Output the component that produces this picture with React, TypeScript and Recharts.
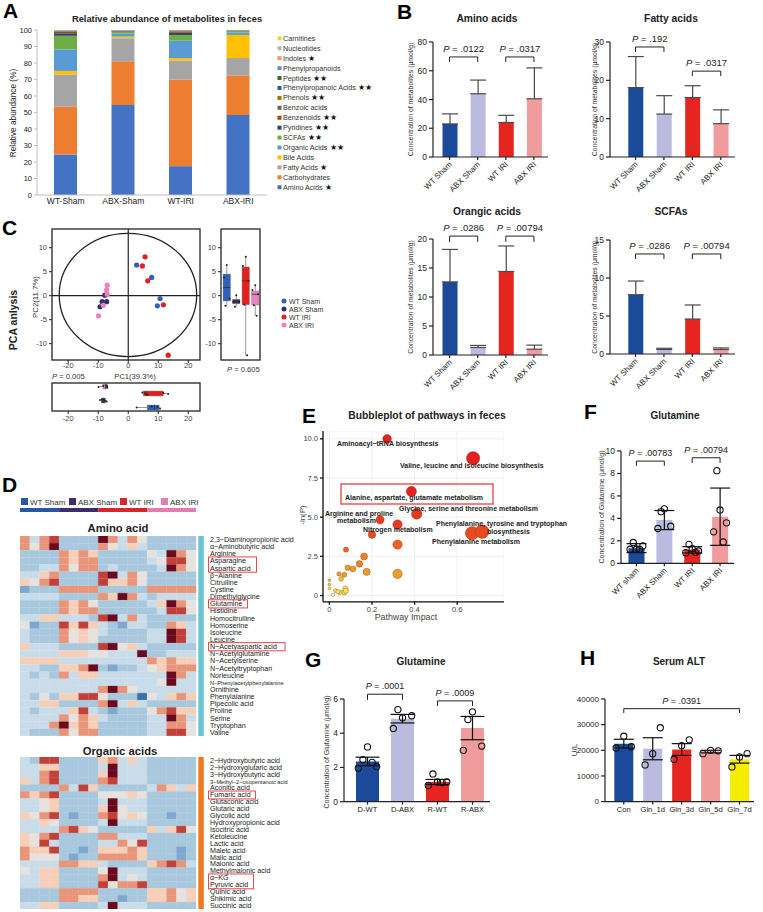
import React from 'react'
import {
  BarChart, Bar, ComposedChart, ScatterChart, Scatter, XAxis, YAxis, ZAxis,
  ErrorBar, ReferenceLine, ReferenceArea, CartesianGrid, Cell,
} from 'recharts'

const FONT = '"Liberation Sans", Arial, Helvetica, sans-serif'

// ---------- A: relative abundance ----------
const groupsA = ['WT-Sham', 'ABX-Sham', 'WT-IRI', 'ABX-IRI']
const classesA = [
  'Amino Acids', 'Carbohydrates', 'Fatty Acids', 'Bile Acids', 'Organic Acids', 'SCFAs',
  'Pyridines', 'Benzenoids', 'Benzoic acids', 'Phenols', 'Phenylpropanoic Acids', 'Peptides',
  'Phenylpropanoids', 'Indoles', 'Nucleotides', 'Carnitines',
]
const starsA = ['★', '', '★', '', '★★', '★★', '★★', '★★', '', '★★', '★★', '★★', '', '★', '', '']
const colorsA = [
  '#4472C4', '#ED7D31', '#A5A5A5', '#FFC000', '#5B9BD5', '#70AD47', '#264478', '#9E480E',
  '#636363', '#997300', '#255E91', '#43682B', '#698ED0', '#F1975A', '#B7B7B7', '#FFCD33',
]
const aminoA = [24.5, 54.5, 17.5, 48.5]
const carbA = [29, 26.5, 52.5, 24]
const fattyA = [19.5, 14, 11.5, 10.5]
const bileA = [2.2, 1, 1.5, 14]
const organicA = [13, 1.8, 10.5, 1.5]
const scfaA = [8.3, 1, 3.5, 0.8]
const pyridA = [1.5, 0.3, 1.3, 0.2]
const benzenA = [0.8, 0.2, 0.8, 0.1]
const benzoA = [0.4, 0.2, 0.4, 0.1]
const phenolA = [0.2, 0.1, 0.2, 0.05]
const ppaA = [0.2, 0.1, 0.1, 0.05]
const peptA = [0.1, 0.1, 0.05, 0.05]
const phpA = [0.1, 0.1, 0.05, 0.05]
const indolA = [0.1, 0.05, 0.05, 0.05]
const nuclA = [0.1, 0.05, 0.05, 0.05]
const carnA = [0.1, 0.05, 0.05, 0.05]
const valuesA = [aminoA, carbA, fattyA, bileA, organicA, scfaA, pyridA, benzenA, benzoA, phenolA, ppaA, peptA, phpA, indolA, nuclA, carnA]

// ---------- B: concentrations ----------
const bNames = ['WT Sham', 'ABX Sham', 'WT IRI', 'ABX IRI']
const bColors = ['#1B4A9B', '#BBBADF', '#E62420', '#F09C9C']
const aminoMean = [23, 44, 24, 40.5]
const aminoErr = [7, 9.5, 5, 21.5]
const fattyMean = [18.1, 11.2, 15.5, 8.7]
const fattyErr = [8.1, 4.8, 3.1, 3.6]
const orgMean = [12.6, 1.3, 14.4, 1.0]
const orgErr = [5.6, 0.35, 4.4, 0.7]
const scfaMean = [7.8, 0.6, 4.6, 0.6]
const scfaErr = [1.8, 0.15, 1.85, 0.2]

// ---------- C: PCA ----------
const pcaGroups = ['WT Sham', 'ABX Sham', 'WT IRI', 'ABX IRI']
const pcaColors = ['#2D62B8', '#3B2C6C', '#E1201F', '#EA82C0']
const pcaPC1 = [
  [2.8, 7.8, 10.6, 9.7],
  [-7.8, -8.7, -7.2, -9.4],
  [5.6, 4.7, 6.5, 11.7, 13.3],
  [-7.0, -7.2, -7.0, -8.3, -9.9],
]
const pcaPC2 = [
  [6.4, 3.8, -0.6, -2.1],
  [0.1, -1.25, -1.25, -2.3],
  [8.1, 6.2, 3.1, -1.9, -12.4],
  [2.2, 1.2, 0.3, -2.0, -4.2],
]
const pc2Box = [[-1.1, 4.5], [-1.7, -0.75], [-1.9, 6.0], [-1.95, 1.0]]
const pc2Whisk = [[-2.3, 6.3], [-2.3, 0.1], [-12.5, 8.1], [-4.2, 2.2]]
const pc2Med = [1.7, -1.3, 3.1, 0.3]
const pc1Box = [[6.3, 10.3], [-9.0, -7.6], [5.0, 11.7], [-8.5, -7.0]]
const pc1Whisk = [[2.8, 10.6], [-9.4, -7.2], [4.7, 13.3], [-9.9, -7.0]]
const pc1Med = [8.7, -8.3, 6.0, -7.6]
const pcaX: [number, number] = [-25.4, 23.9]
const pcaY: [number, number] = [-13.4, 13.9]

// ---------- D: heatmaps ----------
const heatGroups = ['WT Sham', 'ABX Sham', 'WT IRI', 'ABX IRI']
const heatCounts = [4, 4, 5, 5]
const heatGroupColors = ['#2A56A6', '#3D2C6E', '#D8262A', '#E47BB3']
const HEAT = ['#3A6FAA', '#7FA8CF', '#A8C8DE', '#C9DCE9', '#E6E2DE', '#F6CFB9', '#E8957A', '#C3403A', '#6B0A1F']
const aminoNames = [
  '2,3−Diaminopropionic acid', 'α−Aminobutyric acid', 'Arginine', 'Asparagine', 'Aspartic acid',
  'β−Alanine', 'Citrulline', 'Cystine', 'Dimethylglycine', 'Glutamine', 'Histidine', 'Homocitrulline',
  'Homoserine', 'Isoleucine', 'Leucine', 'N−Acetyaspartic acid', 'N−Acetylglutamine', 'N−Acetylserine',
  'N−Acetyltryptophan', 'Norleucine', 'N−Phenylacetylphenylalanine', 'Ornithine', 'Phenylalanine',
  'Pipecolic acid', 'Proline', 'Serine', 'Tryptophan', 'Valine',
]
const aminoHeat = [
  [6, 3, 6, 7, 2, 2, 2, 2, 8, 6, 3, 6, 4, 2, 2, 2, 2, 2],
  [6, 4, 6, 8, 2, 2, 2, 2, 6, 4, 3, 5, 3, 2, 2, 2, 2, 2],
  [2, 2, 2, 2, 6, 5, 6, 5, 2, 2, 2, 2, 2, 4, 3, 8, 6, 4],
  [2, 2, 2, 2, 6, 5, 6, 6, 2, 2, 2, 2, 2, 3, 4, 7, 7, 4],
  [2, 2, 3, 3, 6, 4, 6, 6, 2, 3, 2, 2, 2, 2, 3, 8, 6, 4],
  [3, 3, 5, 6, 2, 2, 2, 2, 7, 8, 3, 6, 4, 2, 2, 2, 2, 2],
  [5, 4, 6, 7, 2, 2, 2, 2, 7, 5, 5, 6, 4, 2, 2, 2, 2, 2],
  [1, 2, 2, 2, 6, 6, 6, 6, 2, 2, 2, 2, 2, 6, 6, 6, 6, 6],
  [3, 3, 3, 3, 2, 2, 2, 2, 6, 5, 8, 6, 3, 2, 3, 3, 3, 3],
  [2, 2, 2, 2, 6, 5, 6, 4, 2, 2, 2, 2, 2, 3, 5, 8, 6, 4],
  [2, 2, 2, 2, 6, 5, 6, 6, 2, 2, 2, 2, 2, 2, 3, 7, 7, 4],
  [3, 3, 5, 5, 3, 3, 3, 2, 7, 8, 3, 6, 3, 2, 2, 2, 2, 2],
  [4, 1, 2, 2, 7, 5, 7, 5, 3, 2, 1, 3, 3, 2, 2, 6, 5, 3],
  [3, 2, 2, 2, 6, 4, 5, 4, 3, 2, 2, 2, 2, 3, 3, 8, 7, 3],
  [3, 2, 2, 2, 6, 4, 5, 4, 2, 2, 2, 2, 2, 3, 3, 8, 7, 3],
  [5, 3, 3, 3, 2, 2, 2, 2, 7, 8, 4, 5, 3, 2, 2, 2, 2, 2],
  [3, 3, 3, 3, 5, 5, 5, 4, 4, 3, 3, 3, 8, 2, 2, 3, 3, 3],
  [5, 5, 5, 5, 3, 3, 3, 3, 3, 3, 3, 3, 3, 6, 5, 6, 5, 5],
  [3, 3, 2, 2, 5, 5, 6, 8, 2, 1, 2, 2, 3, 4, 5, 6, 6, 6],
  [3, 2, 3, 2, 6, 3, 5, 5, 3, 3, 3, 3, 3, 3, 3, 8, 6, 3],
  [3, 3, 3, 3, 3, 3, 3, 3, 3, 3, 3, 3, 3, 3, 4, 8, 3, 3],
  [3, 3, 3, 3, 3, 3, 3, 3, 6, 8, 6, 4, 3, 3, 3, 3, 3, 3],
  [3, 2, 4, 2, 5, 5, 7, 7, 4, 2, 2, 2, 0, 4, 3, 5, 6, 5],
  [3, 3, 5, 5, 2, 2, 2, 2, 6, 8, 3, 5, 3, 2, 2, 2, 2, 2],
  [3, 2, 3, 3, 3, 5, 7, 3, 2, 1, 2, 2, 2, 4, 6, 7, 5, 5],
  [3, 3, 3, 3, 6, 4, 6, 5, 3, 2, 2, 2, 2, 3, 3, 8, 6, 3],
  [3, 3, 3, 6, 8, 5, 6, 5, 2, 2, 2, 2, 2, 3, 3, 6, 6, 4],
  [3, 2, 2, 2, 6, 4, 6, 6, 2, 2, 2, 2, 2, 3, 3, 7, 7, 4],
]
const organicNames = [
  '2−Hydroxybutyric acid', '2−Hydroxyglutaric acid', '3−Hydroxybutyric acid', '3−Methyl−2−oxopentanoic acid',
  'Aconitic acid', 'Fumaric acid', 'Glutaconic acid', 'Glutaric acid', 'Glycolic acid', 'Hydroxypropionic acid',
  'Isocitric acid', 'Ketoleucine', 'Lactic acid', 'Maleic acid', 'Malic acid', 'Malonic acid',
  'Methylmalonic acid', 'α−KG', 'Pyruvic acid', 'Quinic acid', 'Shikimic acid', 'Succinic acid',
]
const organicHeat = [
  [3, 2, 7, 7, 2, 2, 2, 2, 5, 6, 3, 5, 3, 2, 2, 2, 2, 2],
  [3, 3, 5, 5, 2, 2, 2, 2, 3, 8, 3, 3, 3, 2, 2, 2, 2, 2],
  [3, 3, 6, 7, 2, 2, 2, 2, 5, 8, 3, 3, 3, 2, 2, 2, 2, 2],
  [5, 3, 6, 7, 2, 2, 2, 2, 6, 7, 3, 3, 3, 2, 2, 2, 2, 2],
  [2, 2, 2, 2, 6, 3, 7, 5, 2, 2, 2, 2, 2, 3, 6, 5, 3, 5],
  [6, 5, 6, 7, 2, 2, 2, 2, 4, 4, 4, 5, 4, 2, 2, 2, 2, 2],
  [3, 3, 4, 5, 2, 2, 2, 2, 3, 8, 3, 3, 3, 2, 2, 2, 2, 2],
  [3, 3, 4, 5, 2, 2, 2, 2, 5, 8, 4, 3, 3, 2, 2, 2, 2, 2],
  [5, 4, 6, 7, 2, 1, 2, 2, 6, 7, 4, 5, 4, 2, 2, 1, 2, 2],
  [3, 3, 5, 4, 2, 2, 2, 2, 3, 8, 3, 3, 3, 2, 2, 2, 2, 2],
  [3, 3, 3, 3, 6, 7, 5, 4, 2, 2, 2, 2, 2, 5, 3, 5, 7, 4],
  [5, 4, 6, 7, 2, 2, 2, 2, 6, 6, 3, 3, 3, 2, 2, 2, 2, 2],
  [5, 4, 7, 3, 2, 2, 2, 2, 3, 3, 6, 4, 7, 2, 2, 2, 2, 2],
  [6, 5, 5, 7, 2, 2, 1, 2, 5, 5, 5, 6, 5, 2, 2, 2, 1, 2],
  [6, 4, 4, 4, 2, 1, 2, 2, 6, 6, 6, 6, 5, 2, 2, 2, 1, 2],
  [3, 3, 3, 3, 6, 6, 5, 5, 3, 2, 2, 2, 2, 5, 6, 7, 6, 3],
  [4, 3, 5, 5, 2, 2, 2, 2, 4, 8, 3, 3, 3, 2, 2, 2, 2, 2],
  [3, 3, 5, 5, 2, 2, 2, 2, 6, 8, 3, 4, 3, 2, 2, 2, 2, 2],
  [3, 3, 5, 5, 2, 2, 2, 2, 7, 4, 6, 6, 7, 2, 2, 2, 2, 2],
  [2, 2, 2, 2, 6, 6, 6, 6, 2, 2, 2, 2, 2, 5, 5, 6, 4, 5],
  [2, 2, 2, 2, 6, 6, 5, 5, 2, 2, 1, 2, 2, 5, 5, 6, 4, 5],
  [3, 3, 5, 5, 2, 2, 2, 2, 3, 8, 3, 3, 3, 2, 2, 2, 2, 2],
]
const smallLabels = ['N−Phenylacetylphenylalanine', '3−Methyl−2−oxopentanoic acid']

// ---------- E: pathway bubbles ----------
const impactE = [0.271, 0.675, 0.385, 0.41, 0.238, 0.32, 0.2, 0.67, 0.717, 0.32, 0.078, 0.163, 0.141, 0.086, 0.111, 0.175, 0.32, 0.045, 0.07, 0.055, 0, 0, 0, 0.028, 0.05, 0.07, 0.075, 0.077, 0.017, 0.04]
const nlpE = [10.0, 8.76, 6.64, 5.21, 4.83, 4.53, 3.89, 3.98, 4.08, 3.25, 2.93, 2.49, 2.02, 1.77, 1.7, 1.51, 1.38, 1.38, 1.32, 1.06, 0.98, 0.7, 0.45, 0.32, 0.2, 0.2, 0.45, 0.3, 0.05, 0.25]

// ---------- F / G / H ----------
const fNames = ['WT sham', 'ABX Sham', 'WT IRI', 'ABX IRI']
const fMean = [1.35, 3.85, 1.2, 4.15]
const fErr = [0.4, 0.85, 0.28, 2.55]
const fPts = [[1.25, 1.25, 1.55, 1.85, 1.25], [4.85, 3.1, 3.3, 4.6], [1.3, 0.95, 1.1, 1.69, 0.98], [4.75, 2.8, 3.6, 8.25, 1.9]]
const gNames = ['D-WT', 'D-ABX', 'R-WT', 'R-ABX']
const gMean = [2.35, 4.85, 1.15, 4.3]
const gErr = [0.25, 0.25, 0.15, 0.68]
const gPts = [[3.2, 1.95, 2.05, 2.45, 2.3], [4.9, 4.28, 5.02, 5.38], [1.15, 0.95, 1.15, 1.62, 1.12], [5.25, 3.0, 3.25, 4.8]]
const hNames = ['Con', 'Gln_1d', 'Gln_3d', 'Gln_5d', 'Gln_7d']
const hMean = [22600, 20600, 20300, 19500, 16500]
const hErr = [1700, 4300, 2300, 500, 1500]
const hPts = [[25500, 20900, 21400], [18700, 14300, 28800], [21800, 16500, 24100], [20000, 18700, 19800], [17400, 13500, 18700]]
const hColors = ['#1B4A9B', '#BBBADF', '#E62420', '#F09C9C', '#F6EC00']

// ---------- helpers ----------
type Br = { a: string; b: string; y: number; drop: number; text: string }

function PText({ viewBox, text, size }: any) {
  const vb = viewBox || { x: 0, y: 0, width: 0 }
  return (
    <text x={vb.x + vb.width / 2} y={vb.y - 5} textAnchor="middle" fontSize={size} fill="#222">
      <tspan fontStyle="italic">P</tspan>{' = ' + text}
    </text>
  )
}

function bracket(b: Br, i: number, size: number) {
  const s = { stroke: '#222', strokeWidth: 1, ifOverflow: 'visible' as const }
  return [
    <ReferenceLine key={'bh' + i} {...s} segment={[{ x: b.a, y: b.y }, { x: b.b, y: b.y }]}
      label={(p: any) => <PText viewBox={p.viewBox} text={b.text} size={size} />} />,
    <ReferenceLine key={'bl' + i} {...s} segment={[{ x: b.a, y: b.y }, { x: b.a, y: b.y - b.drop }]} />,
    <ReferenceLine key={'br' + i} {...s} segment={[{ x: b.b, y: b.y }, { x: b.b, y: b.y - b.drop }]} />,
  ]
}

const JIT = [0, -0.4, 0.4, -0.2, 0.2]

function dotShape(k: number, w: number) {
  return (p: any) => {
    if (!Number.isFinite(p.cx) || !Number.isFinite(p.cy) || p.payload?.['p' + k] == null) return <g />
    return <circle cx={p.cx + JIT[k] * w} cy={p.cy} r={3.1} fill="none" stroke="#111" strokeWidth={1.1} />
  }
}

function RotTick(props: any) {
  const { x, y, payload, size } = props
  return (
    <text x={x} y={y} dy={4} transform={`rotate(-45 ${x} ${y})`} textAnchor="end" fontSize={size} fill="#222">
      {payload.value}
    </text>
  )
}

type ErrProps = {
  px: number; py: number; pw: number; ph: number
  names: string[]; means: number[]; errs: number[]; colors: string[]
  domain: [number, number]; ticks: number[]; barSize: number; pad: number
  brackets: Br[]; pts?: number[][]; rotate?: boolean; both?: boolean
  capW?: number; errColor?: string; pSize?: number; tSize?: number; xSize?: number
}

function ErrChart(p: ErrProps) {
  const yw = 36, mt = 46, mr = 8, xh = p.rotate ? 46 : 20
  const data = p.names.map((n, i) => {
    const row: any = { name: n, mean: p.means[i], err: p.both ? p.errs[i] : [0, p.errs[i]] }
    ;(p.pts?.[i] ?? []).forEach((v, k) => (row['p' + k] = v))
    return row
  })
  const nPts = p.pts ? Math.max(...p.pts.map((a) => a.length)) : 0
  const ax = { stroke: '#222', strokeWidth: 1.2 }
  return (
    <div style={{ position: 'absolute', left: p.px - yw, top: p.py - mt }}>
      <ComposedChart width={yw + p.pw + mr} height={mt + p.ph + xh} data={data}
        margin={{ top: mt, right: mr, left: 0, bottom: 0 }}>
        <XAxis dataKey="name" interval={0} height={xh} padding={{ left: p.pad, right: 0 }}
          axisLine={ax} tickLine={ax} tickSize={3}
          tick={p.rotate ? <RotTick size={p.xSize ?? 8} /> : { fontSize: p.xSize ?? 7.8, fill: '#222' }} />
        <YAxis width={yw} domain={p.domain} ticks={p.ticks} allowDataOverflow interval={0}
          tickSize={4} axisLine={ax} tickLine={ax} tick={{ fontSize: p.tSize ?? 8.5, fill: '#222' }} />
        <Bar dataKey="mean" barSize={p.barSize} isAnimationActive={false}>
          {data.map((_, i) => <Cell key={i} fill={p.colors[i]} />)}
          <ErrorBar dataKey="err" width={p.capW ?? 8} stroke={p.errColor ?? '#4a4a4a'} strokeWidth={1.2} direction="y" />
        </Bar>
        {Array.from({ length: nPts }).map((_, k) => (
          <Scatter key={'p' + k} dataKey={'p' + k} isAnimationActive={false} shape={dotShape(k, p.barSize)} />
        ))}
        {p.brackets.flatMap((b, i) => bracket(b, i, p.pSize ?? 9))}
      </ComposedChart>
    </div>
  )
}

// ---------- panels ----------
function PanelA() {
  const data = groupsA.map((g, i) => {
    const row: any = { name: g }
    classesA.forEach((c, k) => (row[c] = valuesA[k][i]))
    return row
  })
  const ax = { stroke: '#bfbfbf' }
  return (
    <div style={{ position: 'absolute', left: 7, top: 25 }}>
      <BarChart width={260} height={190} data={data} margin={{ top: 5, right: 0, left: 0, bottom: 0 }} barSize={23}>
        <XAxis dataKey="name" height={20} interval={0} tickLine={false} tickSize={0} tickMargin={3}
          axisLine={ax} tick={{ fontSize: 8.5, fill: '#222' }} />
        <YAxis width={30} domain={[0, 100]} ticks={[0, 10, 20, 30, 40, 50, 60, 70, 80, 90, 100]} allowDataOverflow
          interval={0} tickSize={3} axisLine={ax} tickLine={ax} tick={{ fontSize: 7.5, fill: '#222' }} />
        {classesA.map((c, k) => (
          <Bar key={c} dataKey={c} stackId="a" fill={colorsA[k]} isAnimationActive={false} />
        ))}
      </BarChart>
    </div>
  )
}

function PcaMain() {
  const yw = 20, xh = 14
  const tk = { fontSize: 7.5, fill: '#444' }
  return (
    <div style={{ position: 'absolute', left: 52 - yw, top: 229 }}>
      <ScatterChart width={yw + 148} height={131 + xh} margin={{ top: 0, right: 0, left: 0, bottom: 0 }}>
        <XAxis type="number" dataKey="x" domain={pcaX} ticks={[-20, -10, 0, 10, 20]} allowDataOverflow height={xh}
          axisLine={false} tickSize={3} tickMargin={0} tickLine={{ stroke: '#222' }} tick={tk} />
        <YAxis type="number" dataKey="y" domain={pcaY} ticks={[-10, -5, 0, 5, 10]} allowDataOverflow width={yw}
          axisLine={false} tickSize={3} tickLine={{ stroke: '#222' }} tick={tk} />
        <ReferenceArea x1={-23} x2={22.8} y1={-12.7} y2={13} ifOverflow="visible"
          shape={(s: any) => (
            <ellipse cx={s.x + s.width / 2} cy={s.y + s.height / 2} rx={s.width / 2} ry={s.height / 2}
              fill="none" stroke="#222" strokeWidth={1.3} />
          )} />
        <ReferenceLine x={0} stroke="#222" strokeWidth={1.2} />
        <ReferenceLine y={0} stroke="#222" strokeWidth={1.2} />
        {pcaGroups.map((g, i) => (
          <Scatter key={g} data={pcaPC1[i].map((v, j) => ({ x: v, y: pcaPC2[i][j] }))} isAnimationActive={false}
            shape={(s: any) => <circle cx={s.cx} cy={s.cy} r={2.6} fill={pcaColors[i]} />} />
        ))}
      </ScatterChart>
    </div>
  )
}

const smallDot = (k: number, vertical: boolean) => (s: any) => {
  if (!Number.isFinite(s.cx) || !Number.isFinite(s.cy) || s.payload?.['q' + k] == null) return <g />
  const o = JIT[k] * 7
  return <circle cx={vertical ? s.cx + o : s.cx} cy={vertical ? s.cy : s.cy + o * 0.4} r={1} fill="#222" />
}

function PcaRight() {
  const yw = 22
  const data = pcaGroups.map((g, i) => {
    const r: any = { name: g, box: pc2Box[i], med: pc2Med[i] }
    pcaPC2[i].forEach((v, k) => (r['q' + k] = v))
    return r
  })
  const tk = { fontSize: 7.5, fill: '#444' }
  return (
    <div style={{ position: 'absolute', left: 221 - yw, top: 229 }}>
      <ComposedChart width={yw + 39} height={131} data={data} margin={{ top: 0, right: 0, left: 0, bottom: 0 }}>
        <XAxis dataKey="name" hide padding={{ left: 1, right: 0 }} />
        <YAxis domain={pcaY} ticks={[-10, -5, 0, 5, 10]} allowDataOverflow width={yw} axisLine={false}
          tickSize={3} tickLine={{ stroke: '#222' }} tick={tk} />
        {pcaGroups.flatMap((g, i) => [
          <ReferenceLine key={'wl' + i} segment={[{ x: g, y: pc2Whisk[i][0] }, { x: g, y: pc2Box[i][0] }]} stroke="#9a9a9a" />,
          <ReferenceLine key={'wh' + i} segment={[{ x: g, y: pc2Box[i][1] }, { x: g, y: pc2Whisk[i][1] }]} stroke="#9a9a9a" />,
        ])}
        <Bar dataKey="box" barSize={7.5} isAnimationActive={false} stroke="#8a8a8a" strokeWidth={0.4}>
          {data.map((_, i) => <Cell key={i} fill={pcaColors[i]} />)}
        </Bar>
        <Scatter dataKey="med" isAnimationActive={false}
          shape={(s: any) => <line x1={s.cx - 3.7} x2={s.cx + 3.7} y1={s.cy} y2={s.cy} stroke="#333" strokeWidth={0.8} />} />
        {[0, 1, 2, 3, 4].map((k) => (
          <Scatter key={k} dataKey={'q' + k} isAnimationActive={false} shape={smallDot(k, true)} />
        ))}
      </ComposedChart>
    </div>
  )
}

function PcaBottom() {
  const order = [3, 2, 1, 0]
  const data = order.map((i) => {
    const r: any = { name: pcaGroups[i], box: pc1Box[i], med: pc1Med[i], col: pcaColors[i] }
    pcaPC1[i].forEach((v, k) => (r['q' + k] = v))
    return r
  })
  const xh = 16
  return (
    <div style={{ position: 'absolute', left: 52, top: 383 }}>
      <ComposedChart layout="vertical" width={148} height={28 + xh} data={data} margin={{ top: 0, right: 0, left: 0, bottom: 0 }}>
        <XAxis type="number" domain={pcaX} ticks={[-20, -10, 0, 10, 20]} allowDataOverflow height={xh}
          axisLine={false} tickSize={3} tickLine={{ stroke: '#222' }} tick={{ fontSize: 7.5, fill: '#444' }} />
        <YAxis type="category" dataKey="name" hide />
        {order.flatMap((i) => {
          const g = pcaGroups[i]
          return [
            <ReferenceLine key={'wl' + i} segment={[{ x: pc1Whisk[i][0], y: g }, { x: pc1Box[i][0], y: g }]} stroke="#9a9a9a" />,
            <ReferenceLine key={'wh' + i} segment={[{ x: pc1Box[i][1], y: g }, { x: pc1Whisk[i][1], y: g }]} stroke="#9a9a9a" />,
          ]
        })}
        <Bar dataKey="box" barSize={5} isAnimationActive={false} stroke="#8a8a8a" strokeWidth={0.4}>
          {data.map((d, i) => <Cell key={i} fill={d.col} />)}
        </Bar>
        <Scatter dataKey="med" isAnimationActive={false}
          shape={(s: any) => <line x1={s.cx} x2={s.cx} y1={s.cy - 2.6} y2={s.cy + 2.6} stroke="#333" strokeWidth={0.8} />} />
        {[0, 1, 2, 3, 4].map((k) => (
          <Scatter key={k} dataKey={'q' + k} isAnimationActive={false} shape={smallDot(k, false)} />
        ))}
      </ComposedChart>
    </div>
  )
}

function HeatTick(props: any) {
  const { x, y, payload } = props
  const small = smallLabels.includes(payload.value)
  return (
    <text x={x} y={y} dy={2.4} fontSize={small ? 5.6 : 7.1} fill="#222" stroke="none" textAnchor="start">
      {payload.value}
    </text>
  )
}

const cols = Array.from({ length: 18 }, (_, j) => 'c' + j)

function Heat({ rows, labels, top, h }: { rows: number[][]; labels: string[]; top: number; h: number }) {
  const data = labels.map((l) => {
    const o: any = { name: l }
    cols.forEach((c) => (o[c] = 1))
    return o
  })
  return (
    <div style={{ position: 'absolute', left: 20, top }}>
      <BarChart layout="vertical" width={176 + 130} height={h} data={data} barCategoryGap={0} barGap={0}
        margin={{ top: 0, right: 0, left: 0, bottom: 0 }}>
        <XAxis type="number" hide domain={[0, 18]} />
        <YAxis type="category" dataKey="name" orientation="right" width={130} axisLine={false} tickLine={false}
          tickSize={0} tickMargin={14} interval={0} tick={<HeatTick />} />
        {cols.map((c, j) => (
          <Bar key={c} dataKey={c} stackId="h" isAnimationActive={false}>
            {rows.map((r, i) => <Cell key={i} fill={HEAT[r[j]]} stroke={HEAT[r[j]]} strokeWidth={0.3} />)}
          </Bar>
        ))}
      </BarChart>
    </div>
  )
}

function bubbleColor(v: number) {
  if (v >= 6) return '#E4211C'
  if (v >= 4.4) return '#E7391D'
  if (v >= 3.5) return '#E9491E'
  if (v >= 2.8) return '#EC6321'
  if (v >= 1.9) return '#EF8124'
  if (v >= 1.2) return '#F29B28'
  if (v >= 0.6) return '#F5C432'
  if (v >= 0.15) return '#F7E552'
  return '#FBF6C0'
}

function PanelE() {
  const data = impactE.map((v, i) => ({ impact: v, nlp: nlpE[i] }))
  const yw = 26, xh = 18
  const ax = { stroke: '#111', strokeWidth: 1.3 }
  return (
    <div style={{ position: 'absolute', left: 322.7 - yw, top: 430.5 }}>
      <ScatterChart width={yw + 181} height={170.8 + xh} margin={{ top: 0, right: 0, left: 0, bottom: 0 }}>
        <CartesianGrid stroke="#efefef" />
        <XAxis type="number" dataKey="impact" domain={[-0.03, 0.82]} ticks={[0, 0.2, 0.4, 0.6]} allowDataOverflow
          height={xh} tickSize={3} axisLine={ax} tickLine={ax} tick={{ fontSize: 7.5, fill: '#444' }}
          tickFormatter={(v: number) => (v === 0 ? '0' : String(v))} />
        <YAxis type="number" dataKey="nlp" domain={[-0.4, 10.5]} ticks={[0, 2.5, 5, 7.5, 10]} allowDataOverflow
          width={yw} tickSize={3} axisLine={ax} tickLine={ax} tick={{ fontSize: 7.5, fill: '#444' }}
          tickFormatter={(v: number) => (v === 0 ? '0' : v.toFixed(1))} />
        <ZAxis type="number" dataKey="impact" range={[6, 150]} domain={[0, 0.72]} />
        <Scatter data={data} isAnimationActive={false}>
          {data.map((d, i) => <Cell key={i} fill={bubbleColor(d.nlp)} stroke="#7a4a2a" strokeWidth={0.4} />)}
        </Scatter>
      </ScatterChart>
    </div>
  )
}

// ---------- overlay text ----------
function T({ x, y, s = 8, b = false, a = 'start', r = 0, fill = '#222', children }: any) {
  return (
    <text x={x} y={y} fontSize={s} fontWeight={b ? 700 : 400} textAnchor={a} fill={fill}
      transform={r ? `rotate(${r} ${x} ${y})` : undefined}>
      {children}
    </text>
  )
}

const CONC = 'Concentration of metabolites (μmol/g)'
const GLN = 'Concentration of Glutamine (μmol/g)'

function Overlay() {
  const amRH = 200 / 28
  const orRH = 152 / 22
  const cw = 176 / 18
  let acc = 0
  const boxes = [
    { y: 536 + 3 * amRH, n: 2, w: 48, h: amRH },
    { y: 536 + 9 * amRH, n: 1, w: 39, h: amRH },
    { y: 536 + 15 * amRH, n: 1, w: 76.5, h: amRH },
    { y: 757 + 5 * orRH, n: 1, w: 47, h: orRH },
    { y: 757 + 17 * orRH, n: 2, w: 45, h: orRH },
  ]
  const dLegX = [21, 69, 120, 161]
  const letters: [string, number, number][] = [
    ['A', 3, 18], ['B', 397, 19], ['C', 2, 235], ['D', 2, 492], ['E', 302, 423], ['F', 584, 419], ['G', 305, 667], ['H', 580, 665],
  ]
  return (
    <svg width={763} height={912} style={{ position: 'absolute', left: 0, top: 0, pointerEvents: 'none' }}>
      {letters.map(([l, x, y]) => <T key={l} x={x} y={y} s={21} b fill="#000">{l}</T>)}

      {/* A */}
      <T x={167} y={22} s={9.3} b a="middle">Relative abundance of metabolites in feces</T>
      <T x={16} y={113} s={8.3} a="middle" r={-90}>Relative abundance (%)</T>
      {classesA.map((c, idx) => {
        const k = classesA.length - 1 - idx
        const cy = 38.3 + k * 9.93
        return (
          <g key={c}>
            <rect x={277.5} y={cy - 2} width={4} height={4} fill={colorsA[idx]} />
            <text x={283} y={cy + 2.5} fontSize={7.2} fill="#333">
              {c}{starsA[idx] ? <tspan fontSize={8} fill="#111">{' ' + starsA[idx]}</tspan> : null}
            </text>
          </g>
        )
      })}

      {/* B */}
      <T x={487} y={22} s={10.3} b a="middle">Amino acids</T>
      <T x={671} y={22} s={10.3} b a="middle">Fatty acids</T>
      <T x={487} y={215} s={10.3} b a="middle">Orangic acids</T>
      <T x={671} y={215} s={10.3} b a="middle">SCFAs</T>
      <T x={413} y={99.5} s={6.8} a="middle" r={-90} fill="#333">{CONC}</T>
      <T x={597} y={99.5} s={6.8} a="middle" r={-90} fill="#333">{CONC}</T>
      <T x={413} y={297} s={6.8} a="middle" r={-90} fill="#333">{CONC}</T>
      <T x={597} y={297} s={6.8} a="middle" r={-90} fill="#333">{CONC}</T>

      {/* C */}
      <T x={17} y={320} s={10.5} b a="middle" r={-90}>PCA anlysis</T>
      <T x={38} y={297} s={7.8} a="middle" r={-90} fill="#333">PC2(11.7%)</T>
      <T x={135} y={379} s={7.6} a="middle" fill="#333">PC1(39.3%)</T>
      <T x={52} y={379} s={7.6} fill="#333"><tspan fontStyle="italic">P</tspan> = 0.005</T>
      <T x={227} y={372} s={7.6} fill="#333"><tspan fontStyle="italic">P</tspan> = 0.605</T>
      <rect x={52} y={229} width={148} height={131} fill="none" stroke="#222" strokeWidth={1.3} />
      <rect x={221} y={229} width={39} height={131} fill="none" stroke="#222" strokeWidth={1.3} />
      <rect x={52} y={383} width={148} height={28} fill="none" stroke="#222" strokeWidth={1.3} />
      {pcaGroups.map((g, i) => (
        <g key={g}>
          <circle cx={284} cy={301 + i * 8} r={2.5} fill={pcaColors[i]} />
          <text x={289} y={303.5 + i * 8} fontSize={7} fill="#333">{g}</text>
        </g>
      ))}

      {/* D */}
      {heatGroups.map((g, i) => (
        <g key={g}>
          <rect x={dLegX[i]} y={498} width={7} height={7} fill={heatGroupColors[i]} />
          <text x={dLegX[i] + 9} y={504.5} fontSize={8} fill="#333">{g}</text>
        </g>
      ))}
      {heatCounts.map((n, i) => {
        const x = 20 + acc * cw
        acc += n
        return <rect key={i} x={x} y={508} width={n * cw} height={4} fill={heatGroupColors[i]} />
      })}
      <T x={118} y={532} s={11.3} b a="middle">Amino acid</T>
      <T x={120} y={755} s={11.3} b a="middle">Organic acids</T>
      <rect x={198.3} y={536} width={5.5} height={200} fill="#6CC5D5" />
      <rect x={198.3} y={757} width={5.5} height={152} fill="#F07A22" />
      {boxes.map((b, i) => (
        <rect key={i} x={208.5} y={b.y - 0.5} width={b.w} height={b.n * b.h + 1} fill="none" stroke="#E8484E" strokeWidth={1} />
      ))}

      {/* E */}
      <T x={427} y={419} s={10.3} b a="middle">Bubbleplot of pathways in feces</T>
      <T x={305} y={515} s={8} a="middle" r={-90} fill="#444">-ln(P)</T>
      <T x={406} y={620} s={8.8} a="middle" fill="#444">Pathway Impact</T>
      <rect x={341} y={484} width={152} height={20} fill="none" stroke="#E53030" strokeWidth={1.2} />
      <g fontWeight={700} fontSize={7} fill="#222">
        <text x={337} y={446}>Aminoacyl−tRNA biosynthesis</text>
        <text x={400} y={468}>Valine, leucine and isoleucine biosynthesis</text>
        <text x={345} y={500}>Alanine, aspartate, glutamate metabolism</text>
        <text x={399} y={511}>Glycine, serine and threonine metabolism</text>
        <text x={325} y={516}>Arginine and proline</text>
        <text x={337} y={523}>metabolism</text>
        <text x={363} y={532}>Nitrogen metabolism</text>
        <text x={436} y={526}>Phenylalanine, tyrosine and tryptophan</text>
        <text x={487} y={534}>biosynthesis</text>
        <text x={432} y={544}>Phenylalanine metabolism</text>
      </g>

      {/* F G H */}
      <T x={675} y={419} s={10} b a="middle">Glutamine</T>
      <T x={421} y={665} s={10} b a="middle">Glutamine</T>
      <T x={679} y={665} s={10} b a="middle">Serum ALT</T>
      <T x={604} y={507} s={7} a="middle" r={-90} fill="#333">{GLN}</T>
      <T x={329} y={752} s={7} a="middle" r={-90} fill="#333">{GLN}</T>
      <T x={577} y={750} s={8} a="middle" r={-90} fill="#333">U/L</T>
    </svg>
  )
}

export default function App() {
  return (
    <div style={{ position: 'absolute', left: 0, top: 0, width: 763, height: 912, background: '#fff', fontFamily: FONT, overflow: 'hidden' }}>
      <PanelA />
      <ErrChart px={433} py={42} pw={115} ph={115} pad={2.5} barSize={15} names={bNames} means={aminoMean} errs={aminoErr}
        colors={bColors} domain={[0, 80]} ticks={[0, 20, 40, 60, 80]} rotate pSize={9.5}
        brackets={[{ a: 'WT Sham', b: 'ABX Sham', y: 69.6, drop: 3.5, text: '.0122' }, { a: 'WT IRI', b: 'ABX IRI', y: 69.6, drop: 3.5, text: '.0317' }]} />
      <ErrChart px={610} py={42} pw={125} ph={115} pad={11.3} barSize={15} names={bNames} means={fattyMean} errs={fattyErr}
        colors={bColors} domain={[0, 30]} ticks={[0, 10, 20, 30]} rotate pSize={9.5}
        brackets={[{ a: 'WT Sham', b: 'ABX Sham', y: 28.7, drop: 1.3, text: '.192' }, { a: 'WT IRI', b: 'ABX IRI', y: 22.4, drop: 1.3, text: '.0317' }]} />
      <ErrChart px={433} py={239} pw={115} ph={116} pad={2.5} barSize={15} names={bNames} means={orgMean} errs={orgErr}
        colors={bColors} domain={[0, 20]} ticks={[0, 5, 10, 15, 20]} rotate pSize={9.5}
        brackets={[{ a: 'WT Sham', b: 'ABX Sham', y: 20.5, drop: 1.0, text: '.0286' }, { a: 'WT IRI', b: 'ABX IRI', y: 20.5, drop: 1.0, text: '.00794' }]} />
      <ErrChart px={610} py={240} pw={125} ph={114} pad={11.3} barSize={15} names={bNames} means={scfaMean} errs={scfaErr}
        colors={bColors} domain={[0, 15]} ticks={[0, 5, 10, 15]} rotate pSize={9.5}
        brackets={[{ a: 'WT Sham', b: 'ABX Sham', y: 13.16, drop: 0.66, text: '.0286' }, { a: 'WT IRI', b: 'ABX IRI', y: 13.16, drop: 0.66, text: '.00794' }]} />
      <PcaMain />
      <PcaRight />
      <PcaBottom />
      <Heat rows={aminoHeat} labels={aminoNames} top={536} h={200} />
      <Heat rows={organicHeat} labels={organicNames} top={757} h={152} />
      <PanelE />
      <ErrChart px={621} py={451} pw={113} ph={112.3} pad={1.5} barSize={16} names={fNames} means={fMean} errs={fErr}
        colors={bColors} domain={[0, 10]} ticks={[0, 2, 4, 6, 8, 10]} rotate both pts={fPts} capW={10} errColor="#111"
        brackets={[{ a: 'WT sham', b: 'ABX Sham', y: 9.1, drop: 0.42, text: '.00783' }, { a: 'WT IRI', b: 'ABX IRI', y: 9.4, drop: 0.47, text: '.00794' }]} />
      <ErrChart px={344} py={699} pw={146} ph={102.7} pad={6} barSize={23} names={gNames} means={gMean} errs={gErr}
        colors={bColors} domain={[0, 6]} ticks={[0, 2, 4, 6]} both pts={gPts} capW={12} errColor="#111" xSize={7.6}
        brackets={[{ a: 'D-WT', b: 'D-ABX', y: 6.28, drop: 0.33, text: '.0001' }, { a: 'R-WT', b: 'R-ABX', y: 5.89, drop: 0.3, text: '.0009' }]} />
      <ErrChart px={605} py={698.7} pw={149} ph={102.6} pad={4.3} barSize={19} names={hNames} means={hMean} errs={hErr}
        colors={hColors} domain={[0, 40000]} ticks={[0, 10000, 20000, 30000, 40000]} both pts={hPts} capW={10} errColor="#111"
        xSize={7.6} tSize={8}
        brackets={[{ a: 'Con', b: 'Gln_7d', y: 36230, drop: 1700, text: '.0391' }]} />
      <Overlay />
    </div>
  )
}
